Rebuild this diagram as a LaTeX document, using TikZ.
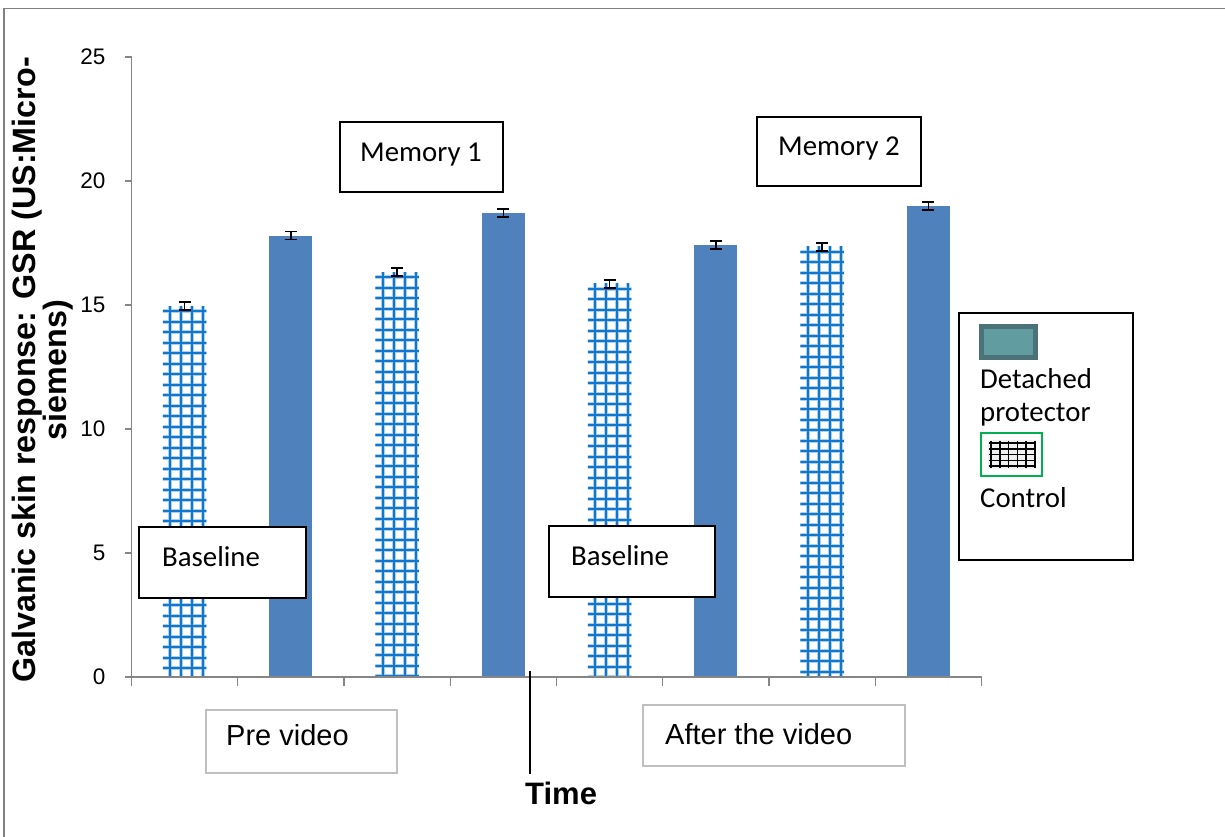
\documentclass[tikz,border=0pt]{standalone}
\usepackage{fontspec}
\setmainfont{Liberation Sans}
\newfontfamily\calibri{Carlito}
\definecolor{barblue}{RGB}{79,129,189}
\definecolor{gridblue}{RGB}{18,118,204}
\definecolor{gridhalo}{RGB}{170,208,240}
\definecolor{axisgray}{RGB}{134,134,134}
\definecolor{framegray}{RGB}{128,128,128}
\definecolor{boxgray}{RGB}{191,191,191}
\definecolor{legfill}{RGB}{96,156,160}
\definecolor{legedge}{RGB}{74,114,120}
\definecolor{leggreen}{RGB}{0,176,80}
\begin{document}
\begin{tikzpicture}[x=1pt,y=-1pt,
  axisline/.style={draw=axisgray,line width=1.4pt},
  ebar/.style={draw=black,line width=1.6pt},
  blackbox/.style={draw=black,line width=1.6pt,fill=white},
  graybox/.style={draw=boxgray,line width=1.6pt,fill=white},
  ticklab/.style={font=\fontsize{22.5}{26}\selectfont,anchor=east},
  calib/.style={font=\calibri\fontsize{28.8}{32}\selectfont,anchor=base west,inner sep=0pt},
  arial/.style={font=\fontsize{29}{34}\selectfont,anchor=base west,inner sep=0pt}]
\useasboundingbox (0,0) rectangle (1225,837);
% outer frame
\draw[framegray,line width=1.8pt] (3.8,837) -- (3.8,8.6) -- (1225,8.6);
% solid bars (detached protector)
\foreach \c/\v in {290.9/17.8, 503.4/18.7, 715.9/17.42, 928.4/19.0} {
  \fill[barblue] ({\c-21.5},677) rectangle ({\c+21.5},{677-24.8*\v});
}
% control bars (cross-hatched)
\foreach \c/\v in {184.6/14.95, 397.1/16.33, 609.6/15.85, 822.1/17.34} {
  \begin{scope}
    \clip ({\c-21.8},677) rectangle ({\c+21.8},{677-24.8*\v});
    \fill[white] ({\c-22},677) rectangle ({\c+22},{677-24.8*\v});
    \foreach \k in {0,...,3} {
      \draw[gridhalo,line width=4pt] ({\c-14.5+11.1*\k},680) -- ++(0,-500);
    }
    \foreach \k in {0,...,45} {
      \draw[gridhalo,line width=4pt] ({\c-25},{677-24.8*\v+5+10.5*\k}) -- ++(50,0);
    }
    \foreach \k in {0,...,3} {
      \draw[gridblue,line width=2pt] ({\c-14.5+11.1*\k},680) -- ++(0,-500);
    }
    \foreach \k in {0,...,45} {
      \draw[gridblue,line width=2pt] ({\c-25},{677-24.8*\v+5+10.5*\k}) -- ++(50,0);
    }
  \end{scope}
}
% error bars
\foreach \c/\v in {184.6/14.95, 290.9/17.8, 397.1/16.33, 503.4/18.7, 609.6/15.85, 715.9/17.42, 822.1/17.34, 928.4/19.0} {
  \draw[ebar] (\c,{677-24.8*\v-4}) -- (\c,{677-24.8*\v+4});
  \draw[ebar] ({\c-6},{677-24.8*\v-4}) -- ({\c+6},{677-24.8*\v-4});
  \draw[ebar] ({\c-6},{677-24.8*\v+4}) -- ({\c+6},{677-24.8*\v+4});
}
% axes
\draw[axisline] (131.5,57) -- (131.5,677);
\draw[axisline] (125,677) -- (981.5,677);
\foreach \v in {0,5,10,15,20,25} {
  \draw[axisline] (125,{677-24.8*\v}) -- (131.5,{677-24.8*\v});
  \node[ticklab] (t\v) at (109,{677-24.8*\v}) {\v};
}
\foreach \k in {0,...,8} {
  \draw[axisline] ({131.5+106.25*\k},677) -- ++(0,9);
}
% y label
\node[rotate=90,align=center,font=\bfseries\fontsize{32.3}{26}\selectfont] (ylab) at (43,370)
  {Galvanic skin response: GSR (US:Micro-\\siemens)};
% annotation boxes
\draw[blackbox] (340,122) rectangle (503,192);
\node[calib] (m1) at (360,162) {Memory 1};
\draw[blackbox] (757,117) rectangle (921,186);
\node[calib] (m2) at (778,156) {Memory 2};
\draw[blackbox] (139,527) rectangle (306,598);
\node[calib] (b1) at (162,566) {Baseline};
\draw[blackbox] (549,526) rectangle (715,597);
\node[calib] (b2) at (571,565) {Baseline};
\draw[graybox] (206,710) rectangle (397,773);
\node[arial] (pre) at (226,745) {Pre video};
\draw[graybox] (643,705) rectangle (905,766);
\node[arial] (post) at (665,744) {After the video};
% time divider and label
\coordinate (ttop) at (530,671);
\coordinate (tbot) at (530,774);
\draw[black,line width=1.8pt] (ttop) -- (tbot);
\node[font=\bfseries\fontsize{31}{36}\selectfont,anchor=base west,inner sep=0pt] (time) at (525,804) {Time};
% legend
\draw[black,line width=1.8pt,fill=white] (959,313) rectangle (1133,560);
\draw[legedge,fill=legfill,line width=4.5pt] (981.5,326.5) rectangle (1035.5,357.5);
\node[calib] (l1) at (980,388) {Detached};
\node[calib] (l2) at (980,421) {protector};
\draw[leggreen,line width=1.5pt,fill=white] (981,433) rectangle (1042,476);
\begin{scope}
  \fill[black!6] (988,440) rectangle (1036,469);
  \foreach \k in {0,...,5} { \draw[black,line width=1.6pt] ({991+8.8*\k},441) -- ({991+8.8*\k},468); }
  \foreach \k in {0,...,4} { \draw[black,line width=1.6pt] (989,{443+5.8*\k}) -- (1036,{443+5.8*\k}); }
\end{scope}
\node[calib] (l3) at (980,507) {Control};
\end{tikzpicture}
\end{document}
